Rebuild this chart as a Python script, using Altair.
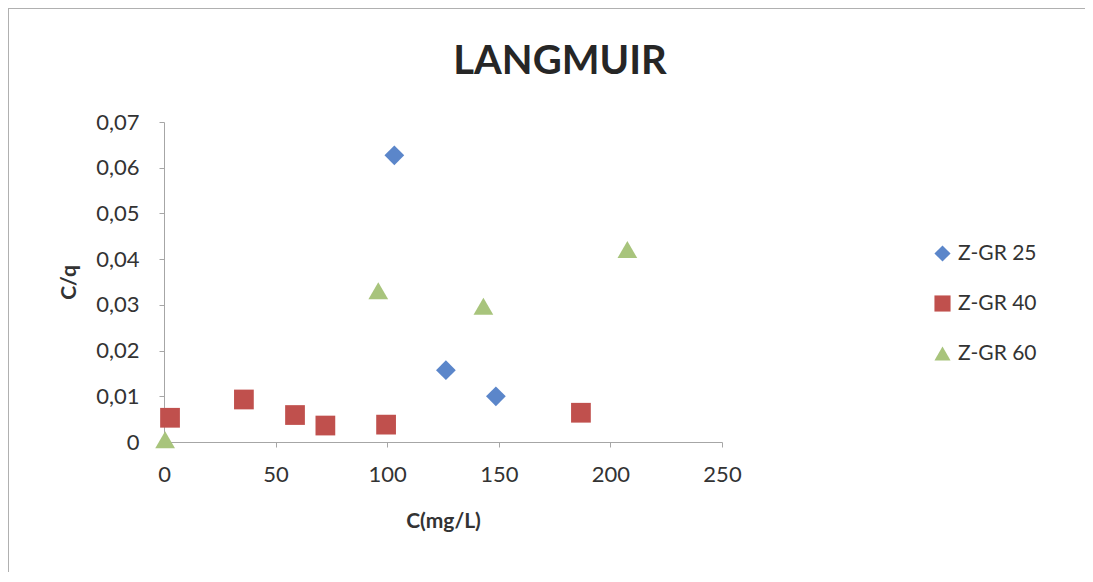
import altair as alt
import pandas as pd

chart_title = ["LANGMUIR"]
series_names = ["Z-GR 25", "Z-GR 40", "Z-GR 60"]

zgr25_c = [103.2, 126.3, 148.7]
zgr25_cq = [0.0627, 0.0157, 0.0100]

zgr40_c = [2.7, 35.8, 58.7, 72.3, 99.5, 186.8]
zgr40_cq = [0.0053, 0.0093, 0.0059, 0.0036, 0.0038, 0.0064]

zgr60_c = [0.5, 96.0, 143.1, 207.6]
zgr60_cq = [0.0005, 0.0331, 0.0297, 0.0421]

x_ticks = [0, 50, 100, 150, 200, 250]
y_ticks = [0, 0.01, 0.02, 0.03, 0.04, 0.05, 0.06, 0.07]

colors = ["#5B86CA", "#C0504D", "#A8C47C"]
shapes = ["diamond", "square", "triangle-up"]

rows = []
for name, xs, ys in [
    (series_names[0], zgr25_c, zgr25_cq),
    (series_names[1], zgr40_c, zgr40_cq),
    (series_names[2], zgr60_c, zgr60_cq),
]:
    for xv, yv in zip(xs, ys):
        rows.append({"serie": name, "C": xv, "Cq": yv})
df = pd.DataFrame(rows)

FONT = "Lato"
TXT = "#333333"
AX = "#a6a6a6"

points = alt.Chart(df).mark_point(filled=True, size=390, opacity=1).encode(
    x=alt.X("C:Q", scale=alt.Scale(domain=[0, 250], nice=False),
            axis=alt.Axis(values=x_ticks, title="C(mg/L)", grid=False, labelFlush=False,
                          labelFontSize=22, titleFontSize=21, titleFontWeight="bold",
                          labelPadding=17, titlePadding=25, tickSize=5,
                          domainColor=AX, tickColor=AX, labelColor=TXT, titleColor=TXT,
                          labelFont=FONT, titleFont=FONT)),
    y=alt.Y("Cq:Q", scale=alt.Scale(domain=[0, 0.07], nice=False),
            axis=alt.Axis(values=y_ticks, title="C/q", grid=False, labelFlush=False,
                          labelExpr="replace(format(datum.value, datum.value == 0 ? 'd' : '.2f'), '.', ',')",
                          labelFontSize=22, titleFontSize=21, titleFontWeight="bold",
                          labelPadding=20, titlePadding=16, tickSize=5,
                          domainColor=AX, tickColor=AX, labelColor=TXT, titleColor=TXT,
                          labelFont=FONT, titleFont=FONT)),
    color=alt.Color("serie:N", scale=alt.Scale(domain=series_names, range=colors),
                    legend=alt.Legend(title=None, orient="none", legendX=768, legendY=121,
                                      labelFontSize=21, labelFont=FONT, labelColor=TXT,
                                      symbolSize=260, rowPadding=28, labelOffset=5,
                                      symbolStrokeWidth=0)),
    shape=alt.Shape("serie:N", scale=alt.Scale(domain=series_names, range=shapes)),
)

title_text = alt.Chart(pd.DataFrame({"t": chart_title})).mark_text(
    font=FONT, fontSize=40, fontWeight="bold", color="#262626",
    align="center", baseline="alphabetic", clip=False,
).encode(text="t:N", x=alt.value(396), y=alt.value(-48))

frame_left = alt.Chart(df).mark_rule(color="#b0b0b0", strokeWidth=1.5, clip=False).encode(
    x=alt.value(-156), y=alt.value(-114), y2=alt.value(500))
frame_top = alt.Chart(df).mark_rule(color="#b0b0b0", strokeWidth=1.5, clip=False).encode(
    x=alt.value(-156), x2=alt.value(930), y=alt.value(-114))

chart = alt.layer(frame_left, frame_top, title_text, points).properties(
    width=558, height=320,
    padding={"left": 156, "top": 114, "right": 363, "bottom": 130},
    autosize=alt.AutoSizeParams(type="none"),
).configure(background="white", view=alt.ViewConfig(stroke=None))

chart.save("out.html", embed_options={"renderer": "svg", "actions": False})
